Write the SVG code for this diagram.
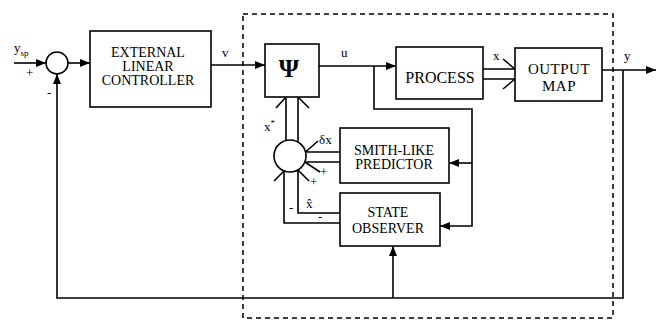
<svg xmlns="http://www.w3.org/2000/svg" width="662" height="322" viewBox="0 0 662 322">
<style>
.box{fill:#fff;stroke:#000;stroke-width:1.6}
.ln{fill:none;stroke:#000;stroke-width:1.6}
.t{font-family:"Liberation Serif",serif;font-size:14px;fill:#000;text-anchor:middle}
.lb{font-family:"Liberation Serif",serif;font-size:13px;fill:#000}
.dash{fill:none;stroke:#000;stroke-width:1.5;stroke-dasharray:5 4}
</style>
<defs>
<marker id="arr" viewBox="0 0 10 8" refX="10" refY="4" markerWidth="10" markerHeight="8" orient="auto" markerUnits="userSpaceOnUse"><path d="M0,0 L10,4 L0,8 z" fill="#000"/></marker>
</defs>
<rect class="dash" x="243" y="14" width="370" height="304"/>
<g id="connectors">
<path class="ln" d="M14,63 L46,63" marker-end="url(#arr)"/>
<path class="ln" d="M68,63 L90,63" marker-end="url(#arr)"/>
<path class="ln" d="M211,65 L265,65" marker-end="url(#arr)"/>
<path class="ln" d="M319,66 L396,66" marker-end="url(#arr)"/>
<path class="ln" d="M483,69 L515,69 M483,79 L515,79 M503,59 L515,69 M503,89 L515,79"/>
<path class="ln" d="M602,70 L656,70" marker-end="url(#arr)"/>
<path class="ln" d="M623,70 L623,298 L57,298 L57,74" marker-end="url(#arr)"/>
<path class="ln" d="M393,298 L393,246" marker-end="url(#arr)"/>
<path class="ln" d="M374,66 L374,109 L472,109 L472,226 L440,226" marker-end="url(#arr)"/>
<path class="ln" d="M472,163 L449,163" marker-end="url(#arr)"/>
<path class="ln" d="M286,140.5 L286,97 M298,142 L298,97 M276,108 L286,97 M309,108 L298,97"/>
<path class="ln" d="M340,152 L305.5,152 M340,162 L304.8,162 M305.5,152 L318,141 M304.8,162 L320,172"/>
<path class="ln" d="M340,213 L298,213 L298,170 M340,223 L284,223 L284,171 M284,171 L274,181 M298,170 L309,181"/>
</g>
<g id="sum1"><circle class="box" cx="57" cy="63" r="11"/></g>
<g id="controller">
<rect class="box" x="90" y="31" width="121" height="76"/>
<text class="t" x="148" y="57">EXTERNAL</text>
<text class="t" x="148" y="71">LINEAR</text>
<text class="t" x="148" y="85" font-size="13.5">CONTROLLER</text>
</g>
<g id="psi">
<rect class="box" x="265" y="44" width="54" height="53"/>
<text class="t" x="289" y="77" style="font-size:26px;font-weight:bold">Ψ</text>
</g>
<g id="process">
<rect class="box" x="396" y="47" width="87" height="52"/>
<text class="t" x="440" y="83" style="font-size:16px">PROCESS</text>
</g>
<g id="outputmap">
<rect class="box" x="515" y="48" width="87" height="53"/>
<text class="t" x="559" y="74" style="font-size:15px;letter-spacing:0.5px">OUTPUT</text>
<text class="t" x="559" y="91" style="font-size:15px;letter-spacing:0.5px">MAP</text>
</g>
<g id="predictor">
<rect class="box" x="340" y="128" width="109" height="55"/>
<text class="t" x="394" y="155">SMITH-LIKE</text>
<text class="t" x="394" y="169">PREDICTOR</text>
</g>
<g id="observer">
<rect class="box" x="340" y="193" width="100" height="53"/>
<text class="t" x="388" y="217">STATE</text>
<text class="t" x="388" y="233">OBSERVER</text>
</g>
<g id="sum2"><circle class="box" cx="290" cy="156" r="16"/></g>
<g id="labels">
<text class="lb" x="14" y="52">y<tspan font-size="9" dy="4">sp</tspan></text>
<text class="lb" x="26" y="77">+</text>
<text class="lb" x="47" y="97">-</text>
<text class="lb" x="222" y="57">v</text>
<text class="lb" x="341" y="57">u</text>
<text class="lb" x="493" y="60">x</text>
<text class="lb" x="624" y="60">y</text>
<text class="lb" x="264" y="131">x<tspan font-size="9" dy="-5">*</tspan></text>
<text class="lb" x="319" y="144">δx</text>
<text class="lb" x="320" y="176">+</text>
<text class="lb" x="310" y="186">+</text>
<text class="lb" x="306" y="208">x̂</text>
<text class="lb" x="289" y="212" font-size="10">-</text>
<text class="lb" x="318" y="221" font-size="10">-</text>
</g>
</svg>
